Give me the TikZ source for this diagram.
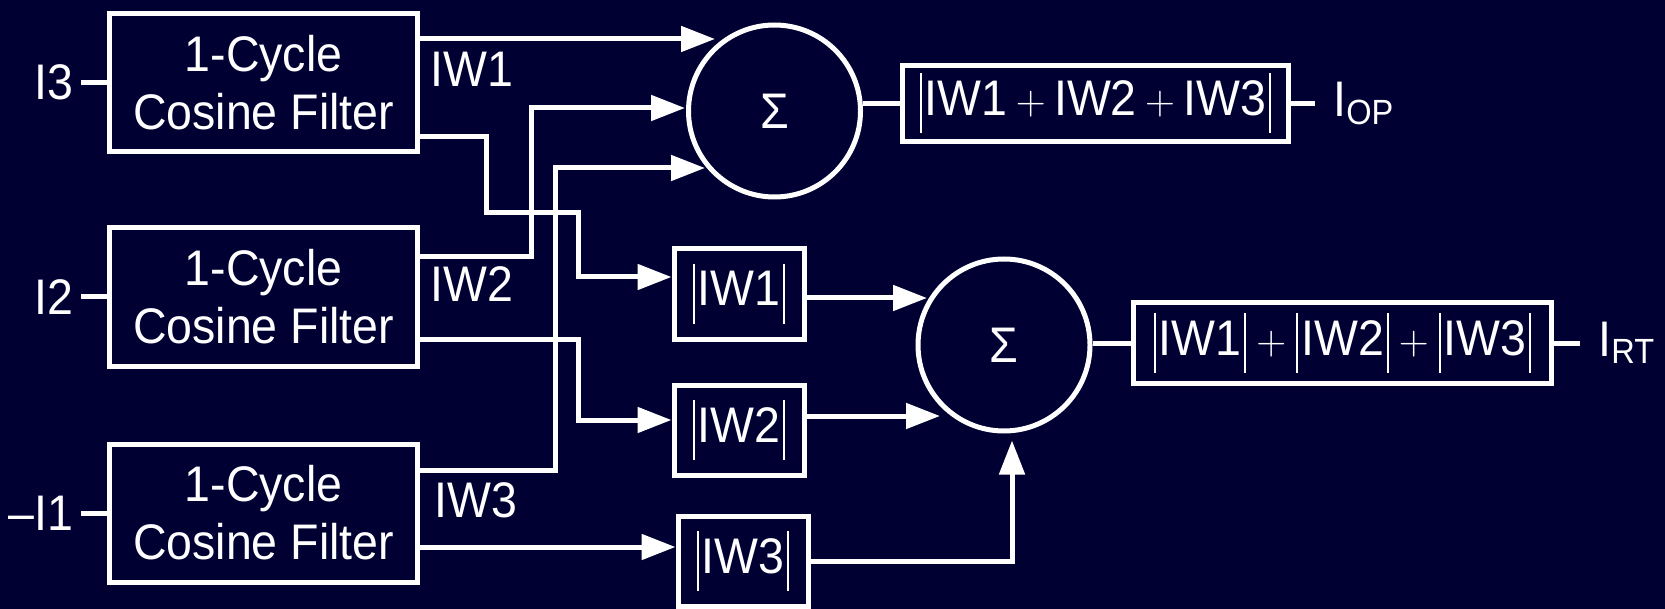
\documentclass[tikz,border=0pt]{standalone}
\usepackage{fontspec}
\setmainfont{Liberation Sans}[FakeStretch=0.93]
\usepackage{graphicx}
\usepackage{xcolor}
\usepackage{tikz}
\usetikzlibrary{positioning, arrows.meta}
\definecolor{navybg}{HTML}{000033}

\newcommand{\vbar}{\rule[-9pt]{1pt}{30pt}}
\newcommand{\absval}[1]{\vbar\hspace{1.5pt}#1\hspace{1.5pt}\vbar}
\newcommand{\pls}{\raisebox{0.5pt}{\fontsize{20}{20}\selectfont$+$}}

\begin{document}
\begin{tikzpicture}[x=0.5pt, y=-0.5pt, font=\fontsize{25}{29}\selectfont,
    every node/.style={text=white},
    filterbox/.style={draw=white, line width=2.5pt, minimum width=154pt,
        minimum height=69pt, inner sep=0pt, align=center},
    absbox/.style={draw=white, line width=2.5pt, minimum width=65pt,
        minimum height=45pt, inner sep=0pt},
    outbox/.style={draw=white, line width=2.5pt, inner sep=0pt},
    sumnode/.style={draw=white, circle, line width=2.5pt, minimum size=86pt, inner sep=0pt},
    tag/.style={inner sep=0pt},
    wire/.style={white, line width=2.5pt},
    arr/.style={wire, -{Triangle[length=17pt, width=12.5pt]}}]
    \path[use as bounding box, fill=navybg] (0,0) rectangle (1665,609);

    % filters
    \node[filterbox] (f1) at (263.5,82.5) {1-Cycle\\Cosine Filter};
    \node[filterbox] (f2) at (263.5,297) {1-Cycle\\Cosine Filter};
    \node[filterbox] (f3) at (263.5,513) {1-Cycle\\Cosine Filter};
    \node[inner sep=3.5pt, left=13pt of f1] (i3) {I3};
    \node[inner sep=3.5pt, left=13pt of f2] (i2) {I2};
    \node[inner sep=3.5pt, left=13pt of f3] (i1) {–I1};
    \draw[wire] (i3) -- (f1);
    \draw[wire] (i2) -- (f2);
    \draw[wire] (i1) -- (f3);
    \node[tag, anchor=west] (w1) at (430,69) {IW1};
    \node[tag, anchor=west] (w2) at (430,284) {IW2};
    \node[tag, anchor=west] (w3) at (434,500) {IW3};

    % sums and magnitudes
    \node[sumnode] (s1) at (774.5,111) {Σ};
    \node[sumnode] (s2) at (1004,345) {Σ};
    \node[absbox] (a1) at (739,294) {\absval{IW1}};
    \node[absbox] (a2) at (739,430) {\absval{IW2}};
    \node[absbox] (a3) at (743,561) {\absval{IW3}};
    \node[outbox, minimum width=193pt, minimum height=38pt] (op) at (1095.5,103.5)
        {\absval{IW1\,\pls\,IW2\,\pls\,IW3}};
    \node[outbox, minimum width=209pt, minimum height=40.5pt] (rt) at (1342.5,343)
        {\absval{IW1}\hspace{5pt}\pls\hspace{5pt}\absval{IW2}\hspace{5pt}\pls\hspace{5pt}\absval{IW3}};
    \node[tag, right=21pt of op] (iop) {I\textsubscript{OP}};
    \node[tag, right=22pt of rt] (irt) {I\textsubscript{RT}};
    \coordinate (opend) at ([xshift=12pt]op.east);
    \coordinate (rtend) at ([xshift=13pt]rt.east);

    \coordinate (s1a) at ([shift={(-59.5,-72)}]s1.center);
    \coordinate (s1b) at ([shift={(-89.5,-3)}]s1.center);
    \coordinate (s1c) at ([shift={(-69.5,57)}]s1.center);
    \coordinate (s2a) at ([shift={(-77,-47)}]s2.center);
    \coordinate (s2b) at ([shift={(-64,71)}]s2.center);
    \coordinate (s2c) at ([shift={(8,7)}]s2.south);

    % connections
    \draw[arr] (f1.east |- s1a) -- (s1a);
    \draw[arr] ([yshift=-27.25pt]f1.east) -- ++(66.5,0) |- ++(92,76) |- ([yshift=8.5pt]a1.west);
    \draw[arr] ([yshift=20pt]f2.east) -- ++(111.5,0) |- (s1b);
    \draw[arr] ([yshift=-21pt]f2.east) -- ++(158.5,0) |- ([yshift=5pt]a2.west);
    \draw[arr] ([yshift=21.5pt]f3.east) -- ++(135.5,0) |- (s1c);
    \draw[arr] ([yshift=-17pt]f3.east) -- ([yshift=7pt]a3.west);
    \draw[arr] (a1.east |- s2a) -- (s2a);
    \draw[arr] (a2.east |- s2b) -- (s2b);
    \draw[arr] (a3.east) -| (s2c);
    \draw[wire] (s1.east |- op.west) -- (op.west);
    \draw[wire] (s2.east |- rt.west) -- (rt.west);
    \draw[wire] (op.east) -- (opend);
    \draw[wire] (rt.east) -- (rtend);
\end{tikzpicture}
\end{document}
